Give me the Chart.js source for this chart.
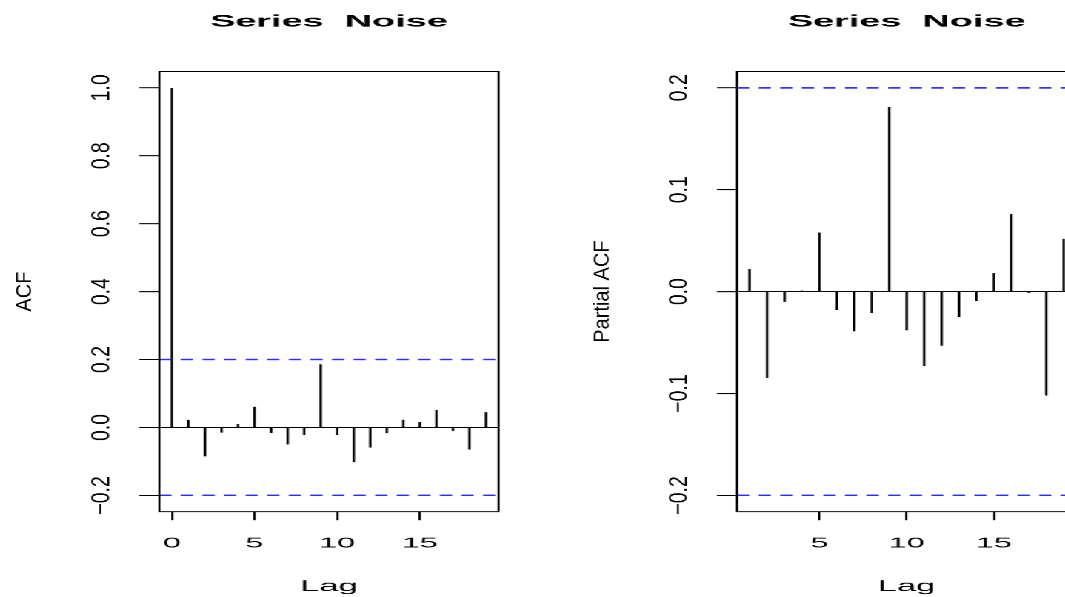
<!DOCTYPE html>
<html>
<head>
<meta charset="utf-8">
<title>Series Noise</title>
<script src="https://cdn.jsdelivr.net/npm/chart.js@4.4.1/dist/chart.umd.min.js"></script>
<style>
  html, body { margin: 0; padding: 0; background: #fff; }
  #crop { width: 1065px; height: 597px; overflow: hidden; position: relative; }
  /* panels are laid out on a narrow device and widened horizontally */
  #fig { display: flex; width: 520px; height: 597px; transform-origin: 0 0; }
  #fig canvas { display: block; }
</style>
</head>
<body>
<div id="crop">
  <div id="fig">
    <canvas id="acfChart" width="260" height="597"></canvas>
    <canvas id="pacfChart" width="260" height="597"></canvas>
  </div>
</div>
<script>
// autocorrelations of Noise, lags 0..19
const acfLags = [0, 1, 2, 3, 4, 5, 6, 7, 8, 9, 10, 11, 12, 13, 14, 15, 16, 17, 18, 19];
const acfValues = [1.0, 0.022, -0.085, -0.015, 0.010, 0.061, -0.016, -0.050, -0.022, 0.186,
                   -0.022, -0.102, -0.059, -0.017, 0.023, 0.016, 0.052, -0.011, -0.065, 0.045];

// partial autocorrelations, lags 1..19
const pacfLags = [1, 2, 3, 4, 5, 6, 7, 8, 9, 10, 11, 12, 13, 14, 15, 16, 17, 18, 19];
const pacfValues = [0.022, -0.085, -0.010, 0.001, 0.058, -0.018, -0.039, -0.021, 0.181, -0.038,
                    -0.073, -0.053, -0.025, -0.009, 0.018, 0.076, -0.001, -0.102, 0.052];

const acfXTicks = [0, 5, 10, 15];
const acfYTicks = [-0.2, 0.0, 0.2, 0.4, 0.6, 0.8, 1.0];
const pacfXTicks = [5, 10, 15];
const pacfYTicks = [-0.2, -0.1, 0.0, 0.1, 0.2];

const ciLimit = 0.2;   // 95% white-noise band

const SX = 2.222;      // horizontal widening of the figure
const PANEL_W = 260;
const FONT = "'Liberation Sans', Arial, Helvetica, sans-serif";

document.getElementById('fig').style.transform = `scaleX(${SX})`;

// R-style axis range: data range padded by 4% each side
function padRange(lo, hi) {
  const d = (hi - lo) * 0.04;
  return [lo - d, hi + d];
}

// snap a horizontal rule onto a whole pixel row
const crisp = v => Math.round(v - 0.5) + 0.5;

// rotated text along the y axis, with separate along/across scaling
function drawRotated(ctx, text, x, y, size, capFinal) {
  const across = capFinal / SX / (0.716 * size);
  ctx.save();
  ctx.translate(x, y);
  ctx.rotate(-Math.PI / 2);
  ctx.scale(1, across);
  ctx.font = `${size}px ${FONT}`;
  ctx.textAlign = 'center';
  ctx.textBaseline = 'middle';
  ctx.fillStyle = '#000';
  ctx.fillText(text, 0, 0);
  ctx.restore();
}

function hline(ctx, a, py) {
  ctx.beginPath();
  ctx.moveTo(a.left, py);
  ctx.lineTo(a.right, py);
  ctx.stroke();
}

const acfFrame = {
  id: 'acfFrame',
  afterDatasetsDraw(chart, args, opts) {
    const { ctx, chartArea: a } = chart;
    const y = chart.scales.y;
    ctx.save();
    ctx.lineWidth = 1;
    // zero line
    ctx.strokeStyle = '#000';
    hline(ctx, a, crisp(y.getPixelForValue(0)));
    // confidence band
    ctx.strokeStyle = '#2b2bff';
    ctx.lineWidth = 1.6;
    ctx.setLineDash([5.5, 4.2]);
    hline(ctx, a, y.getPixelForValue(ciLimit));
    hline(ctx, a, y.getPixelForValue(-ciLimit));
    ctx.setLineDash([]);
    // plot box
    ctx.strokeStyle = '#000';
    ctx.lineWidth = 1;
    ctx.strokeRect(a.left, crisp(a.top), a.right - a.left, crisp(a.bottom) - crisp(a.top));
    ctx.restore();

    // y tick labels, parallel to the axis
    y.ticks.forEach(t => {
      drawRotated(ctx, t.value.toFixed(1).replace('-', '\u2212'),
        a.left - 25.7, y.getPixelForValue(t.value), 19.5, 19);
    });
    drawRotated(ctx, opts.ylab, a.left - 60.5, (a.top + a.bottom) / 2, 20, 16);
  }
};

function makePanel(id, lags, values, xTicks, yTicks, ylab) {
  const xr = padRange(Math.min(...lags), Math.max(...lags));
  const yr = padRange(Math.min(-ciLimit, ...values), Math.max(ciLimit, ...values));

  return new Chart(document.getElementById(id), {
    type: 'bar',
    data: {
      datasets: [{
        data: lags.map((lag, i) => ({ x: lag, y: values[i] })),
        backgroundColor: '#000',
        borderWidth: 0,
        inflateAmount: 0,
        barThickness: 1.1
      }]
    },
    options: {
      responsive: false,
      animation: false,
      devicePixelRatio: SX,
      layout: { padding: { left: 0, right: PANEL_W - 224.1, top: 0, bottom: 0 } },
      plugins: {
        legend: { display: false },
        tooltip: { enabled: false },
        title: {
          display: true,
          text: 'Series  Noise',
          fullSize: false,
          color: '#000',
          font: { family: FONT, size: 17, weight: 'bold' },
          padding: { top: 11.8, bottom: 39.3 }
        },
        acfFrame: { ylab }
      },
      scales: {
        x: {
          type: 'linear',
          min: xr[0],
          max: xr[1],
          offset: false,
          grid: { display: true, drawOnChartArea: false, drawTicks: true, tickLength: 8.5, tickColor: '#000', tickWidth: 1, offset: false },
          border: { display: false },
          ticks: { color: '#000', font: { family: FONT, size: 14.5 }, padding: 14.5, maxRotation: 0, autoSkip: false },
          afterBuildTicks: s => { s.ticks = xTicks.map(v => ({ value: v })); },
          afterFit: s => { s.height = 85.5; },
          title: { display: true, text: 'Lag', color: '#000', font: { family: FONT, size: 15.5 }, padding: { top: 0, bottom: 1 } }
        },
        y: {
          min: yr[0],
          max: yr[1],
          grid: { display: true, drawOnChartArea: false, drawTicks: true, tickLength: 9, tickColor: '#000', tickWidth: 1 },
          border: { display: false },
          ticks: { display: false },
          afterBuildTicks: s => { s.ticks = yTicks.map(v => ({ value: v })); },
          afterFit: s => { s.width = 71.6; }
        }
      }
    },
    plugins: [acfFrame]
  });
}

makePanel('acfChart', acfLags, acfValues, acfXTicks, acfYTicks, 'ACF');
makePanel('pacfChart', pacfLags, pacfValues, pacfXTicks, pacfYTicks, 'Partial ACF');
</script>
</body>
</html>
